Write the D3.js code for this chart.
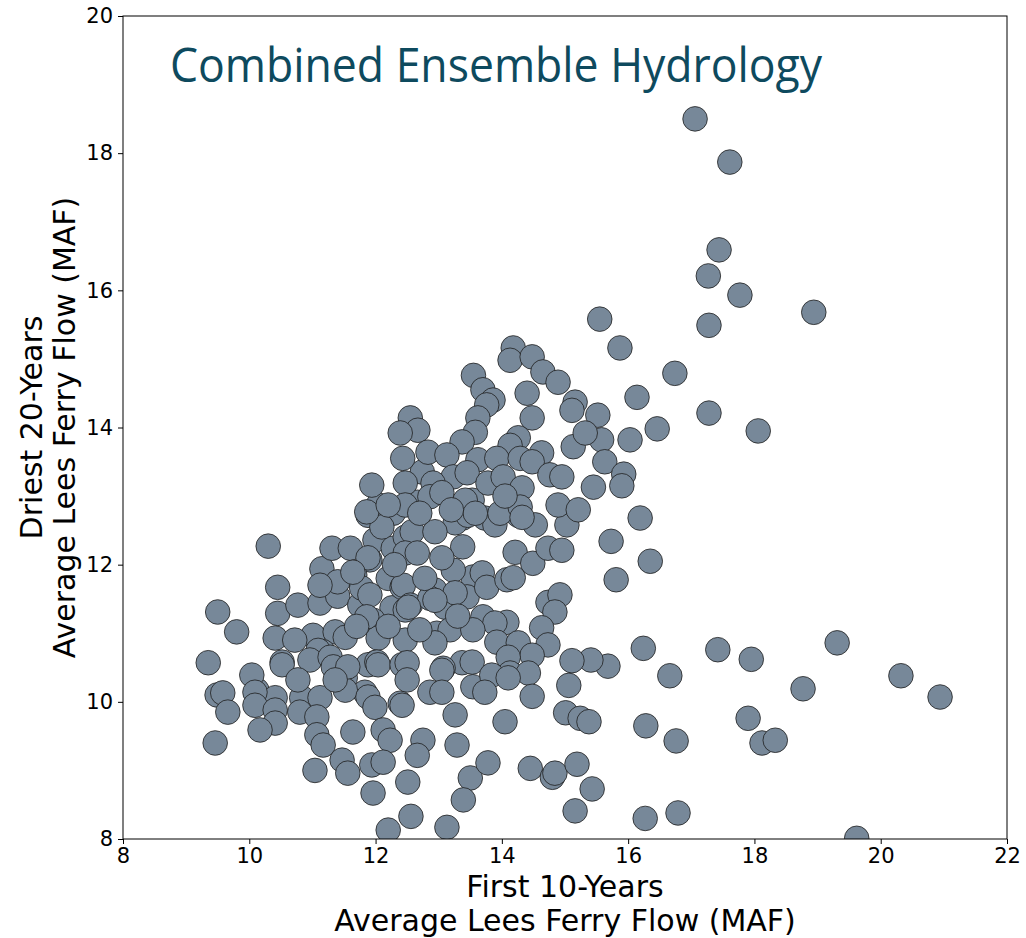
<!DOCTYPE html>
<html>
<head>
<meta charset="utf-8">
<script src="https://cdn.jsdelivr.net/npm/d3@7"></script>
<style>
  body { margin: 0; background: #ffffff; }
  svg { display: block; }
  text { font-family: "DejaVu Sans", sans-serif; fill: #000; }
</style>
</head>
<body>
<svg id="chart" width="1026" height="938"></svg>
<script>
// Axis ticks
const xTickValues = [8, 10, 12, 14, 16, 18, 20, 22];
const yTickValues = [8, 10, 12, 14, 16, 18, 20];

// Text
const chartTitle = "Combined Ensemble Hydrology";
const xLabelLines = ["First 10-Years", "Average Lees Ferry Flow (MAF)"];
const yLabelLines = ["Driest 20-Years", "Average Lees Ferry Flow (MAF)"];

// Ensemble traces: [first 10-year average flow, driest 20-year average flow] (MAF)
const wetOutliers = [
  [17.06,18.50],[17.61,17.87],[17.44,16.59],[17.27,16.21],[17.77,15.93],[17.28,15.49],[18.94,15.68],
  [15.55,15.58],[15.87,15.16],[16.14,14.44],[16.74,14.79],[16.46,13.98],[17.28,14.21],[18.06,13.95],
  [16.03,13.82],[16.19,12.68],[16.35,12.05],[15.73,12.34],[15.81,11.78],[16.24,10.78],[16.66,10.38],
  [17.42,10.76],[17.95,10.62],[19.31,10.86],[18.77,10.19],[20.32,10.38],[20.94,10.07],[17.90,9.76],
  [18.12,9.40],[18.33,9.44],[16.28,9.65],[16.76,9.43],[16.27,8.30],[16.79,8.38],[19.62,8.01],
  [15.68,10.52],[15.41,10.61],[15.11,10.60],[15.06,10.24],[15.01,9.84],[15.24,9.76],[15.38,9.71],
  [15.19,9.09],[15.43,8.73],[15.16,8.41]
];

const upperCluster = [
  [14.18,15.16],[14.13,14.98],[14.48,15.03],[13.55,14.76],[14.65,14.81],[14.89,14.66],[13.70,14.55],
  [13.86,14.40],[13.76,14.33],[14.40,14.50],[15.16,14.37],[15.11,14.25],[15.52,14.18],[14.48,14.14],
  [13.62,14.14],[12.55,14.14],[12.67,13.96],[12.39,13.92],[13.58,13.93],[13.37,13.79],[14.26,13.85],
  [14.13,13.74],[15.13,13.72],[15.58,13.82],[15.32,13.92],[12.83,13.64],[13.13,13.60],[12.43,13.55],
  [13.62,13.53],[13.92,13.55],[14.29,13.55],[14.63,13.63],[14.48,13.50],[15.63,13.50],[13.23,13.28],
  [13.45,13.34],[13.78,13.19],[14.02,13.28],[14.32,13.12],[14.76,13.31],[14.95,13.28],[15.45,13.13],
  [12.47,13.19],[12.91,13.19],[12.86,12.99],[12.47,12.87],[13.42,12.94],[13.58,12.75],[13.97,12.75],
  [14.29,12.84],[14.32,12.69],[14.89,12.87],[15.21,12.80],[11.94,13.16],[11.86,12.77],[12.20,12.87],
  [15.93,13.32],[15.90,13.15],[13.05,13.05],[13.20,12.80],[12.70,12.75],[14.05,13.00]
];

const middleCluster = [
  [13.46,12.72],[13.73,12.68],[13.89,12.58],[14.26,12.72],[14.53,12.58],[15.03,12.58],[12.94,12.48],
  [13.38,12.26],[14.21,12.18],[14.49,12.02],[14.73,12.24],[14.95,12.21],[13.69,11.88],[13.76,11.67],
  [14.08,11.78],[14.18,11.81],[13.23,11.92],[12.78,11.80],[12.47,12.17],[12.66,12.17],[12.52,11.38],
  [13.10,11.38],[13.26,11.59],[12.94,11.48],[14.73,11.45],[14.92,11.56],[14.84,11.31],[14.63,11.08],
  [13.70,11.24],[14.08,11.16],[13.89,11.15],[13.18,11.05],[13.54,11.05],[12.47,10.90],[12.94,10.86],
  [13.92,10.87],[14.26,10.86],[14.73,10.83],[14.48,10.68],[13.53,10.58],[13.07,10.49],[14.10,10.65],
  [14.13,10.42],[14.42,10.42],[13.84,10.39],[12.30,12.00],[13.05,12.10],[12.20,11.10],[12.70,11.05],
  [13.30,11.25]
];

const lowerRightCluster = [
  [12.50,10.57],[12.50,10.32],[13.05,10.46],[12.42,9.95],[13.05,10.14],[13.26,9.81],[13.73,10.14],
  [14.10,10.35],[14.48,10.08],[14.05,9.71],[12.75,9.44],[12.66,9.22],[12.51,8.83],[13.29,9.37],
  [13.50,8.89],[13.78,9.11],[13.39,8.57],[14.45,9.03],[14.80,8.90],[14.84,8.96],[12.56,8.33],
  [13.13,8.17],[12.20,8.13]
];

const lowerLeftCluster = [
  [9.35,10.57],[9.49,10.10],[9.58,10.13],[9.66,9.85],[9.46,9.40],[10.04,10.39],[10.09,10.14],
  [10.09,9.95],[10.41,9.88],[10.41,9.69],[10.17,9.59],[10.52,10.54],[10.77,10.32],[10.80,9.85],
  [11.07,9.78],[11.07,9.52],[11.17,9.37],[11.33,10.51],[11.56,10.51],[11.36,10.32],[11.88,10.07],
  [11.99,9.92],[11.64,9.56],[12.12,9.59],[12.23,9.44],[11.47,9.15],[11.56,8.96],[11.94,9.08],
  [12.12,9.12],[11.04,9.00],[11.96,8.67],[12.39,9.98],[12.04,10.54],[12.42,10.54]
];

const leftMiddleCluster = [
  [10.30,12.27],[10.45,11.67],[10.45,11.29],[9.50,11.31],[9.80,11.02],[10.77,11.41],[11.15,11.94],
  [11.31,12.24],[11.60,12.24],[11.91,12.07],[11.99,12.36],[12.28,12.24],[11.67,11.85],[11.12,11.44],
  [11.40,11.54],[11.75,11.41],[11.78,11.66],[12.20,11.80],[12.26,11.37],[11.96,11.19],[11.01,10.97],
  [11.36,11.02],[11.52,10.94],[10.41,10.93],[10.72,10.90],[10.52,10.58],[11.17,10.73],[11.99,10.57],
  [12.04,10.93],[12.47,11.34],[12.42,11.67],[11.88,12.72],[12.47,12.40],[12.04,12.87],[11.88,12.10],
  [11.40,11.75],[11.12,11.70],[12.74,13.35],[12.66,12.91],[12.28,12.75],[13.53,12.94],[13.38,12.68],
  [13.26,12.61],[12.58,12.48],[11.64,11.89],[12.44,11.70],[12.94,11.63],[13.54,11.82],[11.91,11.56],
  [11.86,11.24],[11.09,10.75],[10.96,10.61],[11.28,10.65],[11.88,10.54],[11.52,10.35],[10.12,10.17],
  [10.41,10.06],[10.83,10.06],[11.12,10.06],[11.83,10.14],[12.55,11.41],[12.86,11.51],[13.45,11.53],
  [12.97,11.00],[12.02,10.58],[13.37,10.57],[12.86,10.14],[13.54,10.22],[11.52,10.17],[11.70,11.10],
  [12.10,12.55]
];

const traces = [].concat(leftMiddleCluster, lowerLeftCluster, middleCluster,
                         upperCluster, lowerRightCluster, wetOutliers);

// Layout
const svg = d3.select("#chart");
const plot = { left: 123, right: 1007, top: 16, bottom: 839 };

const x = d3.scaleLinear().domain([8, 22]).range([plot.left, plot.right]);
const y = d3.scaleLinear().domain([8, 20]).range([plot.bottom, plot.top]);

svg.append("defs").append("clipPath").attr("id", "plot-clip")
  .append("rect")
  .attr("x", plot.left).attr("y", plot.top)
  .attr("width", plot.right - plot.left).attr("height", plot.bottom - plot.top);

// Scatter markers
svg.append("g").attr("clip-path", "url(#plot-clip)")
  .selectAll("circle").data(traces).join("circle")
  .attr("cx", d => x(d[0]))
  .attr("cy", d => y(d[1]))
  .attr("r", 12.3)
  .attr("fill", "#778899")
  .attr("stroke", "#1e1e1e")
  .attr("stroke-width", 0.8);

// Frame
svg.append("rect")
  .attr("x", plot.left).attr("y", plot.top)
  .attr("width", plot.right - plot.left).attr("height", plot.bottom - plot.top)
  .attr("fill", "none").attr("stroke", "#000").attr("stroke-width", 1);

// Axes
const xAxis = svg.append("g")
  .attr("transform", `translate(0,${plot.bottom})`)
  .call(d3.axisBottom(x).tickValues(xTickValues).tickFormat(d3.format("d"))
        .tickSize(5).tickPadding(4));
const yAxis = svg.append("g")
  .attr("transform", `translate(${plot.left},0)`)
  .call(d3.axisLeft(y).tickValues(yTickValues).tickFormat(d3.format("d"))
        .tickSize(5).tickPadding(5));

[xAxis, yAxis].forEach(g => {
  g.select(".domain").remove();
  g.selectAll(".tick line").attr("stroke", "#000").attr("stroke-width", 1);
  g.selectAll(".tick text")
    .attr("fill", "#000")
    .style("font-family", '"DejaVu Sans", sans-serif')
    .style("font-size", "21px");
});

// Axis titles
const xTitle = svg.append("text")
  .attr("text-anchor", "middle")
  .style("font-size", "30px");
xLabelLines.forEach((line, i) => {
  xTitle.append("tspan")
    .attr("x", (plot.left + plot.right) / 2)
    .attr("y", 897 + i * 34)
    .text(line);
});

const yCenter = (plot.top + plot.bottom) / 2;
yLabelLines.forEach((line, i) => {
  svg.append("text")
    .attr("text-anchor", "middle")
    .attr("transform", `translate(${42 + i * 33},${yCenter}) rotate(-90)`)
    .style("font-size", "30px")
    .text(line);
});

// Title inside the plot area
svg.append("text")
  .attr("x", 170)
  .attr("y", 82)
  .attr("textLength", 652)
  .attr("lengthAdjust", "spacingAndGlyphs")
  .style("font-family", '"Open Sans", "Noto Sans", sans-serif')
  .style("font-size", "48px")
  .style("fill", "#0e4a5e")
  .text(chartTitle);
</script>
</body>
</html>
